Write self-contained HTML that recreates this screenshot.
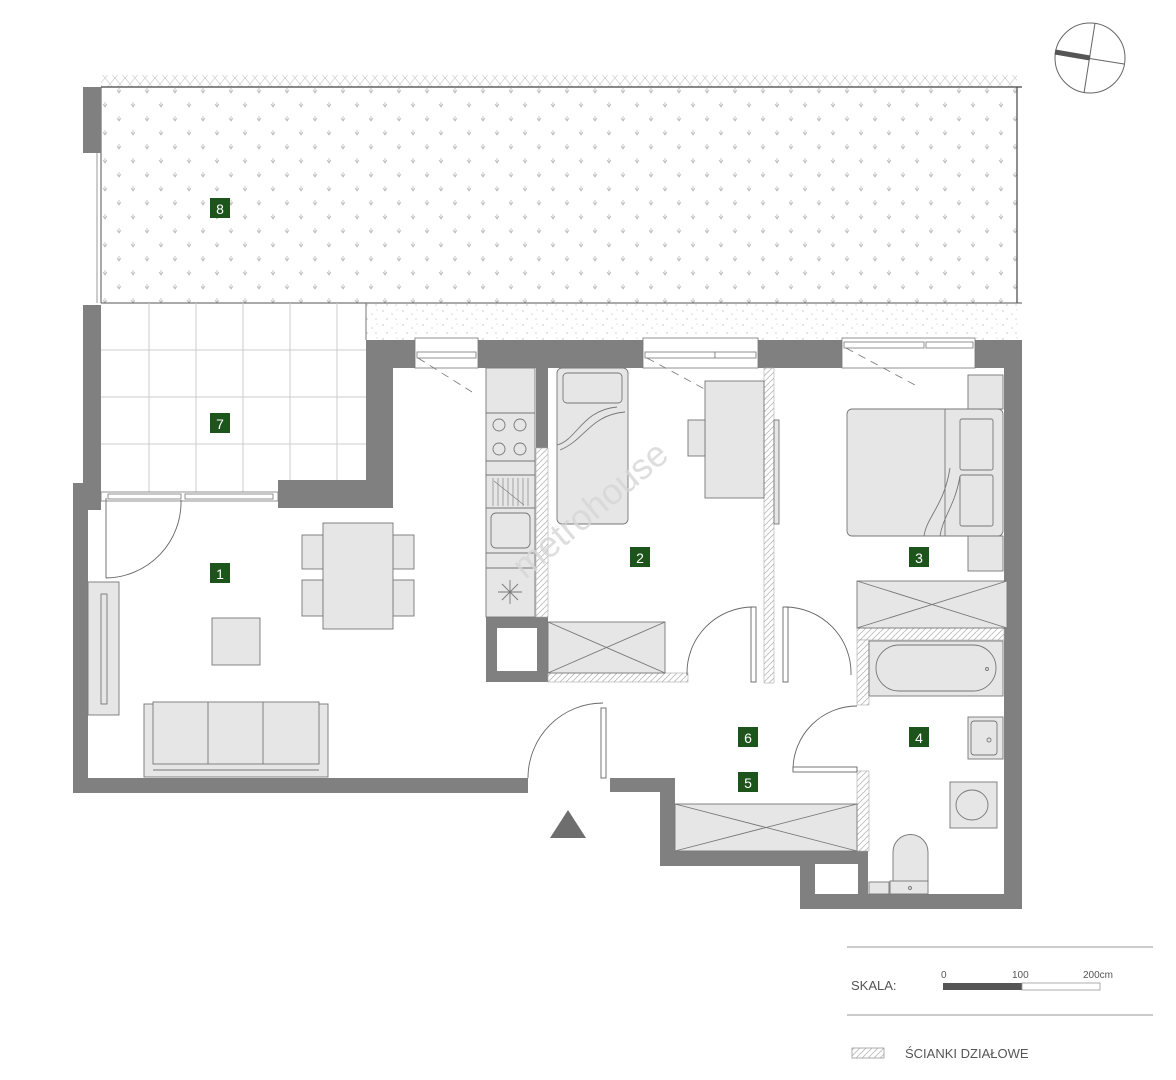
<!DOCTYPE html>
<html><head><meta charset="utf-8"><style>
html,body{margin:0;padding:0;background:#fff;}
svg{display:block;font-family:"Liberation Sans",sans-serif;}
</style></head><body>
<svg width="1176" height="1080" viewBox="0 0 1176 1080" xmlns="http://www.w3.org/2000/svg">
<defs>
<pattern id="grass" width="28" height="28" patternUnits="userSpaceOnUse">
<g stroke="#bbb" stroke-width="0.8" fill="none">
<path d="M7 4v5M5 6l2 3 2-3"/><path d="M21 18v5M19 20l2 3 2-3"/></g></pattern>
<pattern id="hatch" width="6" height="6" patternUnits="userSpaceOnUse">
<rect width="6" height="6" fill="#fff"/><path d="M0 6L6 0M-1 1L1 -1M5 7L7 5" stroke="#bbb" stroke-width="0.8"/></pattern>
<pattern id="xhatch" width="10" height="12" patternUnits="userSpaceOnUse">
<path d="M0 0L10 12M10 0L0 12" stroke="#ccc" stroke-width="0.7"/></pattern>
<pattern id="gravel" width="20" height="14" patternUnits="userSpaceOnUse">
<g fill="#bbb"><circle cx="3" cy="3" r="0.7"/><circle cx="12" cy="6" r="0.6"/><circle cx="7" cy="11" r="0.7"/><circle cx="17" cy="2" r="0.5"/><circle cx="16" cy="11" r="0.6"/></g></pattern>
</defs>

<!-- garden 8 -->
<rect x="101" y="75" width="916" height="12" fill="url(#xhatch)"/>
<rect x="101" y="87" width="916" height="216" fill="url(#grass)"/>
<line x1="101" y1="87" x2="1022" y2="87" stroke="#444" stroke-width="1.2"/>
<line x1="1017" y1="87" x2="1017" y2="303" stroke="#444" stroke-width="1.2"/>
<line x1="101" y1="303" x2="1022" y2="303" stroke="#555" stroke-width="1"/>
<line x1="101" y1="87" x2="101" y2="303" stroke="#555" stroke-width="1"/>
<rect x="83" y="87" width="18" height="66" fill="#808080"/>
<line x1="97" y1="153" x2="97" y2="303" stroke="#ccc" stroke-width="2"/>

<!-- compass -->
<circle cx="1090" cy="58" r="35" fill="none" stroke="#666" stroke-width="1"/>
<line x1="1095" y1="23" x2="1084" y2="93" stroke="#666" stroke-width="1"/>
<line x1="1055" y1="53" x2="1124" y2="64" stroke="#666" stroke-width="1"/>
<line x1="1055" y1="52" x2="1090" y2="58" stroke="#555" stroke-width="5"/>

<!-- terrace 7 -->
<g stroke="#ccc" stroke-width="1">
<line x1="149" y1="303" x2="149" y2="493"/><line x1="196" y1="303" x2="196" y2="493"/><line x1="243" y1="303" x2="243" y2="493"/><line x1="290" y1="303" x2="290" y2="480"/><line x1="337" y1="303" x2="337" y2="480"/>
<line x1="101" y1="350" x2="366" y2="350"/><line x1="101" y1="397" x2="366" y2="397"/><line x1="101" y1="444" x2="366" y2="444"/>
</g>
<line x1="366" y1="303" x2="366" y2="340" stroke="#777"/>
<rect x="366" y="304" width="656" height="36" fill="url(#gravel)"/>
<rect x="83" y="305" width="18" height="205" fill="#808080"/>

<!-- walls -->
<g fill="#808080">
<rect x="366" y="340" width="656" height="28"/>
<rect x="366" y="340" width="27" height="168"/>
<rect x="278" y="480" width="115" height="28"/>
<rect x="73" y="483" width="15" height="310"/>
<rect x="73" y="483" width="28" height="27"/>
<rect x="73" y="778" width="455" height="15"/>
<rect x="1004" y="340" width="18" height="569"/>
<rect x="536" y="368" width="12" height="80"/>
<rect x="486" y="617" width="62" height="65"/>
<rect x="610" y="778" width="65" height="14"/>
<rect x="660" y="778" width="15" height="88"/>
<rect x="660" y="851" width="208" height="15"/>
<rect x="800" y="851" width="68" height="58"/>
<rect x="800" y="894" width="222" height="15"/>
</g>
<rect x="497" y="628" width="40" height="43" fill="#fff"/>
<rect x="815" y="864" width="43" height="30" fill="#fff"/>

<!-- windows top -->
<g fill="#fff" stroke="#777" stroke-width="0.8">
<rect x="415" y="338" width="63" height="30"/><rect x="417" y="352" width="59" height="6"/>
<rect x="643" y="338" width="115" height="30"/><rect x="645" y="352" width="70" height="6"/><rect x="715" y="352" width="41" height="6"/>
<rect x="842" y="338" width="133" height="30"/><rect x="844" y="342" width="80" height="6"/><rect x="926" y="342" width="47" height="6"/>
</g>
<g stroke="#777" stroke-width="0.8" fill="none" stroke-dasharray="8,6">
<path d="M418 358L472 392"/><path d="M647 358L712 393"/><path d="M846 348L915 385"/>
</g>
<!-- terrace door window -->
<g fill="#fff" stroke="#777" stroke-width="0.8">
<rect x="101" y="492" width="177" height="9"/><rect x="108" y="494" width="73" height="5"/><rect x="185" y="494" width="88" height="5"/>
</g>

<!-- partitions hatched -->
<g stroke="#aaa" stroke-width="0.6">
<rect x="536" y="448" width="12" height="169" fill="url(#hatch)"/>
<rect x="548" y="673" width="140" height="9" fill="url(#hatch)"/>
<rect x="764" y="368" width="10" height="315" fill="url(#hatch)"/>
<rect x="857" y="628" width="147" height="12" fill="url(#hatch)"/>
<rect x="857" y="640" width="12" height="65" fill="url(#hatch)"/>
<rect x="857" y="771" width="12" height="80" fill="url(#hatch)"/>
</g>

<!-- furniture -->
<g fill="#e6e6e6" stroke="#777" stroke-width="0.9">
<!-- kitchen -->
<rect x="486" y="368" width="49" height="249"/>
<line x1="486" y1="413" x2="535" y2="413"/><line x1="486" y1="461" x2="535" y2="461"/><line x1="486" y1="475" x2="535" y2="475"/><line x1="486" y1="508" x2="535" y2="508"/><line x1="486" y1="553" x2="535" y2="553"/><line x1="486" y1="568" x2="535" y2="568"/>
<circle cx="499" cy="425" r="6" fill="none"/><circle cx="520" cy="425" r="6" fill="none"/><circle cx="499" cy="449" r="6" fill="none"/><circle cx="520" cy="449" r="6" fill="none"/>
<rect x="491" y="513" width="39" height="35" rx="5"/>
<path d="M510 580v24M498 592h24M502 584l16 16M518 584l-16 16" fill="none"/>
<path d="M493 478v28M498 478v28M503 478v28M508 478v28M513 478v28M518 478v28M523 478v28M528 478v28M494 481l30 24" fill="none" stroke-width="0.6"/>
<!-- room2 -->
<rect x="557" y="368" width="71" height="156" rx="5"/>
<rect x="563" y="373" width="59" height="30" rx="4"/>
<path d="M557 445c20-5 25-35 60-38M560 450c25-10 30-35 65-38" fill="none"/>
<rect x="548" y="622" width="117" height="51"/><path d="M548 622L665 673M665 622L548 673" fill="none"/>
<rect x="705" y="381" width="59" height="117"/>
<rect x="688" y="420" width="17" height="36"/>
<rect x="774" y="420" width="5" height="104"/>
<!-- room3 -->
<rect x="968" y="375" width="35" height="34"/><rect x="968" y="536" width="35" height="35"/>
<rect x="847" y="409" width="156" height="127" rx="5"/>
<line x1="945" y1="409" x2="945" y2="536"/>
<rect x="960" y="419" width="33" height="51" rx="2"/><rect x="960" y="475" width="33" height="51" rx="2"/>
<path d="M924 536c3-20 20-30 26-68M940 536c3-20 15-30 20-60" fill="none"/>
<rect x="857" y="581" width="150" height="47"/><path d="M857 581L1007 628M1007 581L857 628" fill="none"/>
<!-- bathroom -->
<rect x="869" y="641" width="134" height="55"/>
<rect x="876" y="645" width="120" height="46" rx="23"/>
<circle cx="987" cy="669" r="1.5" fill="none"/>
<rect x="968" y="717" width="35" height="42"/><rect x="971" y="721" width="26" height="34" rx="3"/><circle cx="989" cy="740" r="2" fill="none"/>
<rect x="950" y="782" width="47" height="46"/><ellipse cx="972" cy="805" rx="16" ry="15" fill="none"/>
<path d="M893 882v-30a17 17 0 0 1 35 0v30z"/><rect x="890" y="881" width="38" height="13"/><circle cx="910" cy="888" r="1.5" fill="none"/>
<rect x="869" y="882" width="20" height="12"/>
<!-- hall wardrobe -->
<rect x="675" y="804" width="182" height="47"/><path d="M675 804L857 851M857 804L675 851" fill="none"/>
<!-- living -->
<rect x="302" y="535" width="21" height="34"/><rect x="302" y="580" width="21" height="36"/>
<rect x="393" y="535" width="21" height="34"/><rect x="393" y="580" width="21" height="36"/>
<rect x="323" y="523" width="70" height="106"/>
<rect x="212" y="618" width="48" height="47"/>
<rect x="88" y="582" width="31" height="133"/><rect x="101" y="594" width="6" height="110"/>
<rect x="144" y="704" width="184" height="73"/>
<rect x="153" y="702" width="166" height="62"/>
<line x1="208" y1="702" x2="208" y2="764"/><line x1="263" y1="702" x2="263" y2="764"/>
<line x1="153" y1="770" x2="319" y2="770"/>
</g>

<!-- doors -->
<g fill="none" stroke="#666" stroke-width="0.9">
<path d="M106 578V498"/><path d="M106 578A76 76 0 0 0 181 500"/>
<rect x="601" y="708" width="5" height="70" fill="#fff"/><path d="M603 703A75 75 0 0 0 528 778"/>
<rect x="751" y="607" width="5" height="75" fill="#fff"/><path d="M753 607A66 66 0 0 0 687 675"/>
<rect x="783" y="607" width="5" height="75" fill="#fff"/><path d="M785 607A66 66 0 0 1 851 675"/>
<rect x="793" y="767" width="64" height="5" fill="#fff"/><path d="M793 770A64 64 0 0 1 857 706"/>
</g>
<polygon points="550,838 586,838 568,810" fill="#6e6e6e"/>

<!-- watermark -->
<text x="0" y="0" transform="translate(525,580) rotate(-40)" font-size="36" fill="#d6d6d6" fill-opacity="0.8">metrohouse</text>

<!-- labels -->
<g font-size="14" fill="#fff" text-anchor="middle">
<rect x="210" y="198" width="20" height="20" fill="#1c541c"/><text x="220" y="214">8</text>
<rect x="210" y="413" width="20" height="20" fill="#1c541c"/><text x="220" y="429">7</text>
<rect x="210" y="563" width="20" height="20" fill="#1c541c"/><text x="220" y="579">1</text>
<rect x="630" y="547" width="20" height="20" fill="#1c541c"/><text x="640" y="563">2</text>
<rect x="909" y="547" width="20" height="20" fill="#1c541c"/><text x="919" y="563">3</text>
<rect x="909" y="727" width="20" height="20" fill="#1c541c"/><text x="919" y="743">4</text>
<rect x="738" y="772" width="20" height="20" fill="#1c541c"/><text x="748" y="788">5</text>
<rect x="738" y="727" width="20" height="20" fill="#1c541c"/><text x="748" y="743">6</text>
</g>

<!-- legend -->
<line x1="847" y1="947" x2="1153" y2="947" stroke="#999"/>
<line x1="847" y1="1015" x2="1153" y2="1015" stroke="#999"/>
<text x="851" y="990" font-size="13" fill="#555">SKALA:</text>
<g font-size="10" fill="#555"><text x="941" y="978">0</text><text x="1012" y="978">100</text><text x="1083" y="978">200cm</text></g>
<rect x="943" y="983" width="79" height="7" fill="#555"/>
<rect x="1022" y="983" width="78" height="7" fill="#fff" stroke="#999" stroke-width="0.8"/>
<rect x="852" y="1048" width="32" height="10" fill="url(#hatch)" stroke="#999" stroke-width="0.8"/>
<text x="905" y="1058" font-size="13" fill="#555">ŚCIANKI DZIAŁOWE</text>
</svg>
</body></html>
